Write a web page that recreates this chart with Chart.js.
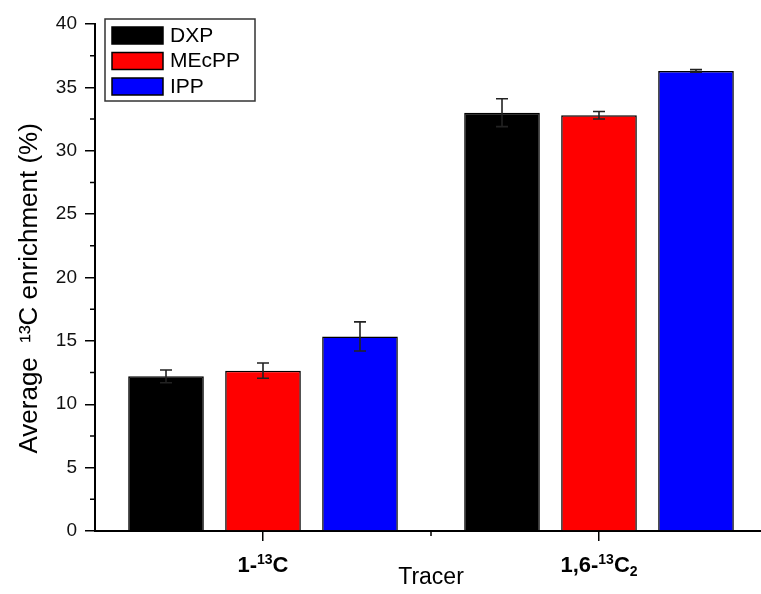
<!DOCTYPE html>
<html>
<head>
<meta charset="utf-8">
<title>Average 13C enrichment by tracer</title>
<script src="https://cdn.jsdelivr.net/npm/chart.js@4.4.0/dist/chart.umd.min.js"></script>
<style>
  html, body { margin: 0; padding: 0; background: #fff; overflow: hidden; }
  #wrap { width: 768px; height: 594px; }
</style>
</head>
<body>
<div id="wrap"><canvas id="chart" width="768" height="594"></canvas></div>
<script>
  var tracers = ['1-\u00B9\u00B3C', '1,6-\u00B9\u00B3C\u2082'];
  var dxp = [12.2, 33.0];
  var dxpErr = [0.5, 1.1];
  var mecpp = [12.65, 32.8];
  var mecppErr = [0.6, 0.3];
  var ipp = [15.35, 36.3];
  var ippErr = [1.15, 0.1];
  var yMinor = [2.5, 7.5, 12.5, 17.5, 22.5, 27.5, 32.5, 37.5];
  var xMinor = [0.5];

  var errs = [dxpErr, mecppErr, ippErr];
  var fontName = '"Liberation Sans", Arial, sans-serif';

  // error bars, drawn from the values through the y scale
  var errorBars = {
    id: 'errorBars',
    afterDatasetsDraw: function (chart) {
      var ctx = chart.ctx, y = chart.scales.y;
      ctx.save();
      ctx.strokeStyle = '#222';
      ctx.lineWidth = 1.6;
      chart.data.datasets.forEach(function (ds, i) {
        chart.getDatasetMeta(i).data.forEach(function (bar, j) {
          var v = ds.data[j], e = errs[i][j];
          var top = y.getPixelForValue(v + e), bot = y.getPixelForValue(v - e);
          ctx.beginPath();
          ctx.moveTo(bar.x, top); ctx.lineTo(bar.x, bot);
          ctx.moveTo(bar.x - 6, top); ctx.lineTo(bar.x + 6, top);
          ctx.moveTo(bar.x - 6, bot); ctx.lineTo(bar.x + 6, bot);
          ctx.stroke();
        });
      });
      ctx.restore();
    }
  };

  // split a label into runs: unicode super/subscript digits become small raised/lowered text
  var supMap = { '\u00B9': '1', '\u00B2': '2', '\u00B3': '3' };
  var subMap = { '\u2080': '0', '\u2081': '1', '\u2082': '2', '\u2083': '3' };
  function runs(label) {
    var out = [];
    for (var k = 0; k < label.length; k++) {
      var c = label[k], kind = 'n';
      if (supMap[c]) { kind = 'sup'; c = supMap[c]; }
      else if (subMap[c]) { kind = 'sub'; c = subMap[c]; }
      if (out.length && out[out.length - 1].kind === kind) out[out.length - 1].text += c;
      else out.push({ kind: kind, text: c });
    }
    return out;
  }

  // minor ticks, category labels with proper superscripts, and the framed legend
  var extras = {
    id: 'extras',
    afterDraw: function (chart) {
      var ctx = chart.ctx, a = chart.chartArea;
      var x = chart.scales.x, y = chart.scales.y;
      ctx.save();
      ctx.strokeStyle = '#000';
      ctx.lineWidth = 1.5;
      ctx.beginPath();
      yMinor.forEach(function (v) {
        var p = y.getPixelForValue(v);
        ctx.moveTo(a.left - 5, p); ctx.lineTo(a.left, p);
      });
      xMinor.forEach(function (v) {
        var p = x.getPixelForValue(v);
        ctx.moveTo(p, a.bottom); ctx.lineTo(p, a.bottom + 5);
      });
      ctx.stroke();

      // category labels
      var big = 'bold 22px ' + fontName, small = 'bold 14px ' + fontName;
      ctx.fillStyle = '#000';
      ctx.textBaseline = 'alphabetic';
      ctx.textAlign = 'left';
      tracers.forEach(function (lab, i) {
        var parts = runs(lab), w = 0;
        parts.forEach(function (p) {
          ctx.font = p.kind === 'n' ? big : small;
          p.w = ctx.measureText(p.text).width;
          w += p.w;
        });
        var cx = x.getPixelForValue(i) - w / 2, base = a.bottom + 41;
        parts.forEach(function (p) {
          ctx.font = p.kind === 'n' ? big : small;
          var dy = p.kind === 'sup' ? -8 : (p.kind === 'sub' ? 4 : 0);
          ctx.fillText(p.text, cx, base + dy);
          cx += p.w;
        });
      });

      // legend
      var lx = a.left + 10, ly = a.top - 5, row = 25.5;
      ctx.strokeStyle = '#333';
      ctx.lineWidth = 1.5;
      ctx.strokeRect(lx, ly, 150, 82);
      ctx.font = '21px ' + fontName;
      ctx.textBaseline = 'middle';
      chart.data.datasets.forEach(function (ds, i) {
        var sy = ly + 8 + i * row;
        ctx.fillStyle = ds.backgroundColor;
        ctx.fillRect(lx + 7, sy, 51, 17);
        ctx.strokeStyle = '#000';
        ctx.lineWidth = 1.5;
        ctx.strokeRect(lx + 7, sy, 51, 17);
        ctx.fillStyle = '#000';
        ctx.fillText(ds.label, lx + 65, sy + 9);
      });
      ctx.restore();
    }
  };

  new Chart(document.getElementById('chart'), {
    type: 'bar',
    data: {
      labels: tracers,
      datasets: [
        { label: 'DXP', data: dxp, backgroundColor: '#000000', borderColor: '#000', borderWidth: 1.5 },
        { label: 'MEcPP', data: mecpp, backgroundColor: '#ff0000', borderColor: '#000', borderWidth: 1.5 },
        { label: 'IPP', data: ipp, backgroundColor: '#0000ff', borderColor: '#000', borderWidth: 1.5 }
      ]
    },
    options: {
      responsive: false,
      animation: false,
      categoryPercentage: 0.866,
      barPercentage: 0.78,
      layout: { padding: { top: 24, right: 1, left: 0, bottom: 0 } },
      plugins: {
        tooltip: { enabled: false },
        legend: { display: false }
      },
      scales: {
        x: {
          afterFit: function (s) { s.height = 63; },
          grid: { offset: false, drawOnChartArea: false, tickLength: 10, color: '#000', lineWidth: 1.5 },
          border: { color: '#000', width: 2 },
          ticks: { display: false },
          title: { display: true, text: 'Tracer', color: '#000', padding: { top: 0, bottom: 3 }, font: { family: fontName, size: 23 } }
        },
        y: {
          min: 0,
          max: 40,
          afterFit: function (s) { s.width = 95; },
          grid: { drawOnChartArea: false, tickLength: 10, color: '#000', lineWidth: 1.5 },
          border: { color: '#000', width: 2 },
          ticks: { stepSize: 5, color: '#111', padding: 8, font: { family: fontName, size: 19 } },
          title: { display: true, text: 'Average  \u00B9\u00B3C enrichment (%)   ', color: '#000', padding: { top: 14, bottom: 0 }, font: { family: fontName, size: 26 } }
        }
      }
    },
    plugins: [errorBars, extras]
  });
</script>
</body>
</html>
